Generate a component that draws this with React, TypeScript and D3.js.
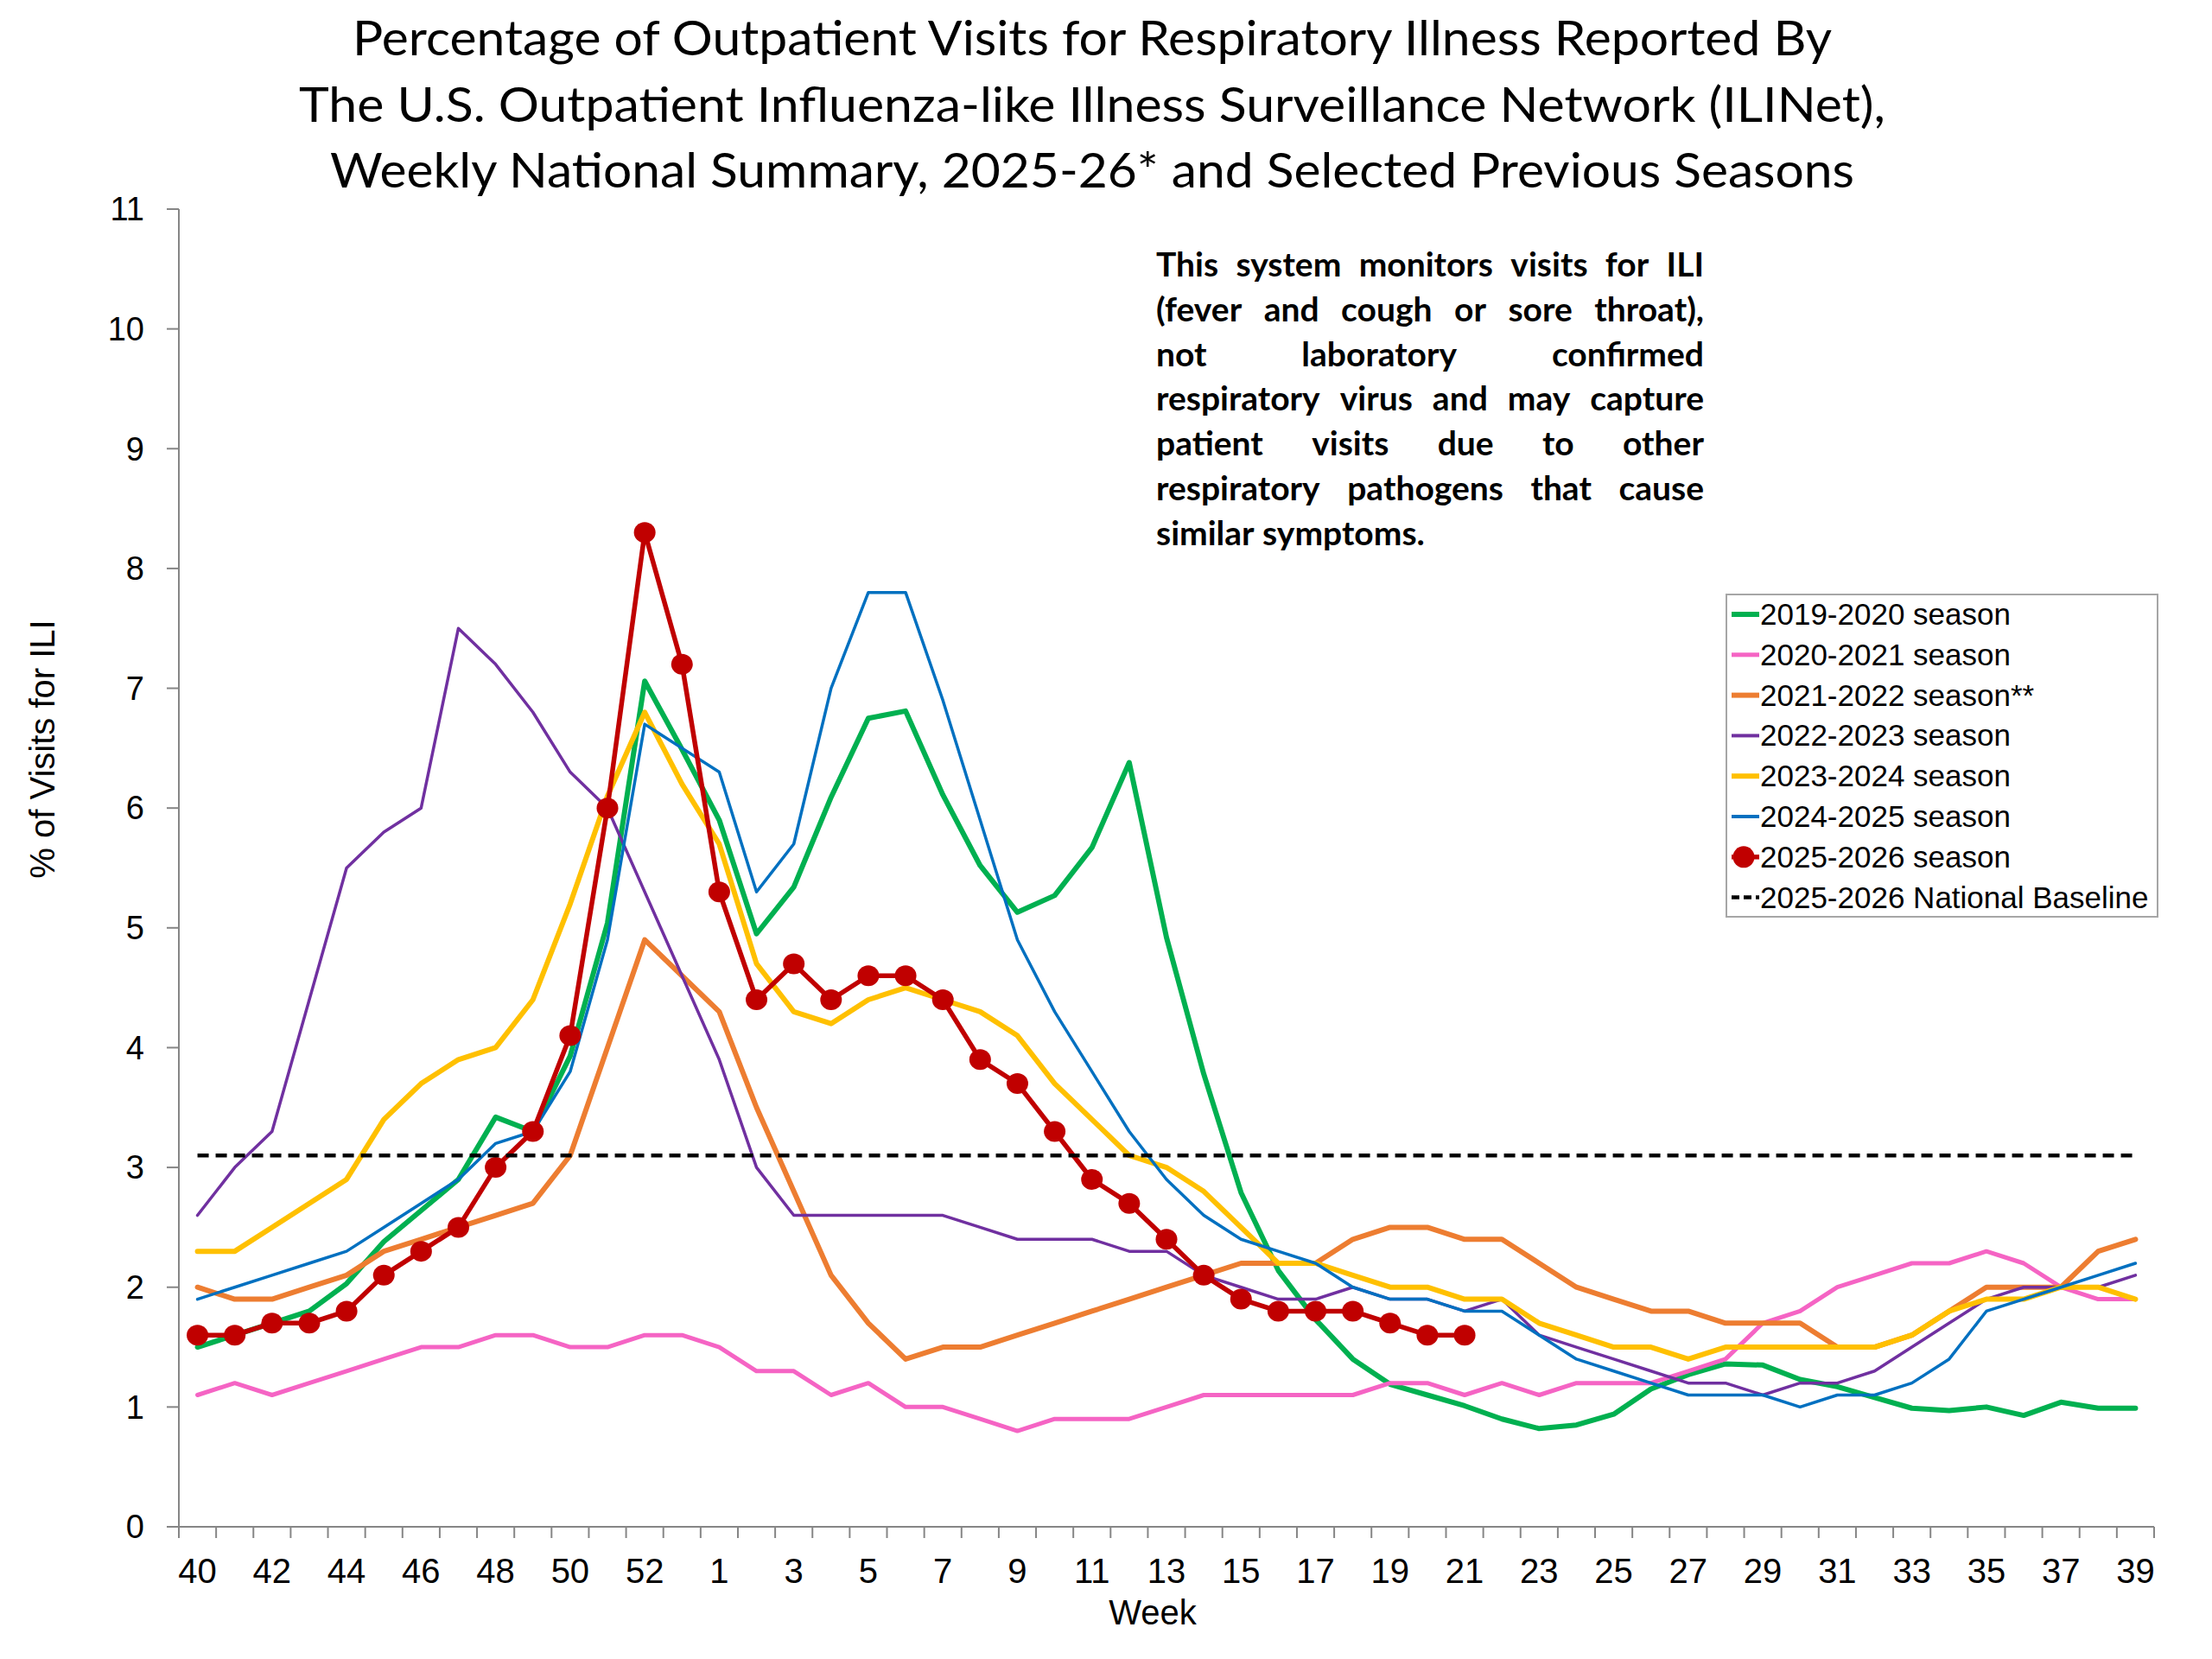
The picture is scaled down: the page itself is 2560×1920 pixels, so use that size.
import { useMemo } from "react";
import * as d3 from "d3";

const WEEKS = [
  40, 41, 42, 43, 44, 45, 46, 47, 48, 49, 50, 51, 52, 53,
  1, 2, 3, 4, 5, 6, 7, 8, 9, 10, 11, 12, 13, 14, 15, 16, 17, 18, 19, 20,
  21, 22, 23, 24, 25, 26, 27, 28, 29, 30, 31, 32, 33, 34, 35, 36, 37, 38, 39,
];

const S2019 = [
  1.5, 1.6, 1.7, 1.8, 2.03, 2.38, 2.64, 2.9, 3.42, 3.3, 3.93, 5.04, 7.06, 6.49,
  5.9, 4.95, 5.34, 6.09, 6.75, 6.81, 6.11, 5.52, 5.13, 5.27, 5.67, 6.38, 4.92, 3.78,
  2.79, 2.14, 1.73, 1.4, 1.19, 1.1, 1.01, 0.9, 0.82, 0.85, 0.94, 1.15, 1.27, 1.36,
  1.35, 1.23, 1.17, 1.08, 0.99, 0.97, 1.0, 0.93, 1.04, 0.99, 0.99,
];
const S2020 = [
  1.1, 1.2, 1.1, 1.2, 1.3, 1.4, 1.5, 1.5, 1.6, 1.6, 1.5, 1.5, 1.6, 1.6,
  1.5, 1.3, 1.3, 1.1, 1.2, 1.0, 1.0, 0.9, 0.8, 0.9, 0.9, 0.9, 1.0, 1.1,
  1.1, 1.1, 1.1, 1.1, 1.2, 1.2, 1.1, 1.2, 1.1, 1.2, 1.2, 1.2, 1.3, 1.4,
  1.7, 1.8, 2.0, 2.1, 2.2, 2.2, 2.3, 2.2, 2.0, 1.9, 1.9,
];
const S2021 = [
  2.0, 1.9, 1.9, 2.0, 2.1, 2.3, 2.4, 2.5, 2.6, 2.7, 3.1, 4.0, 4.9, 4.6,
  4.3, 3.5, 2.8, 2.1, 1.7, 1.4, 1.5, 1.5, 1.6, 1.7, 1.8, 1.9, 2.0, 2.1,
  2.2, 2.2, 2.2, 2.4, 2.5, 2.5, 2.4, 2.4, 2.2, 2.0, 1.9, 1.8, 1.8, 1.7,
  1.7, 1.7, 1.5, 1.5, 1.6, 1.8, 2.0, 2.0, 2.0, 2.3, 2.4,
];
const S2022 = [
  2.6, 3.0, 3.3, 4.4, 5.5, 5.8, 6.0, 7.5, 7.2, 6.8, 6.3, 6.0, 5.3, 4.6,
  3.9, 3.0, 2.6, 2.6, 2.6, 2.6, 2.6, 2.5, 2.4, 2.4, 2.4, 2.3, 2.3, 2.1,
  2.0, 1.9, 1.9, 2.0, 1.9, 1.9, 1.8, 1.9, 1.6, 1.5, 1.4, 1.3, 1.2, 1.2,
  1.1, 1.2, 1.2, 1.3, 1.5, 1.7, 1.9, 2.0, 2.0, 2.0, 2.1,
];
const S2023 = [
  2.3, 2.3, 2.5, 2.7, 2.9, 3.4, 3.7, 3.9, 4.0, 4.4, 5.2, 6.1, 6.8, 6.2,
  5.7, 4.7, 4.3, 4.2, 4.4, 4.5, 4.4, 4.3, 4.1, 3.7, 3.4, 3.1, 3.0, 2.8,
  2.5, 2.2, 2.2, 2.1, 2.0, 2.0, 1.9, 1.9, 1.7, 1.6, 1.5, 1.5, 1.4, 1.5,
  1.5, 1.5, 1.5, 1.5, 1.6, 1.8, 1.9, 1.9, 2.0, 2.0, 1.9,
];
const S2024 = [
  1.9, 2.0, 2.1, 2.2, 2.3, 2.5, 2.7, 2.9, 3.2, 3.3, 3.8, 4.9, 6.7, 6.5,
  6.3, 5.3, 5.7, 7.0, 7.8, 7.8, 6.9, 5.9, 4.9, 4.3, 3.8, 3.3, 2.9, 2.6,
  2.4, 2.3, 2.2, 2.0, 1.9, 1.9, 1.8, 1.8, 1.6, 1.4, 1.3, 1.2, 1.1, 1.1,
  1.1, 1.0, 1.1, 1.1, 1.2, 1.4, 1.8, 1.9, 2.0, 2.1, 2.2,
];
const S2025 = [
  1.6, 1.6, 1.7, 1.7, 1.8, 2.1, 2.3, 2.5, 3.0, 3.3, 4.1, 6.0, 8.3, 7.2,
  5.3, 4.4, 4.7, 4.4, 4.6, 4.6, 4.4, 3.9, 3.7, 3.3, 2.9, 2.7, 2.4, 2.1,
  1.9, 1.8, 1.8, 1.8, 1.7, 1.6, 1.6,
];
const BASELINE = 3.1;

const Y_TICKS = [0, 1, 2, 3, 4, 5, 6, 7, 8, 9, 10, 11];

const TITLE_LINES = [
  "Percentage of Outpatient Visits for Respiratory Illness Reported By",
  "The U.S. Outpatient Influenza-like Illness Surveillance Network (ILINet),",
  "Weekly National Summary, 2025-26* and Selected Previous Seasons",
];
const TITLE_WIDTHS = [1712, 1836, 1764];

const NOTE_LINES = [
  "This system monitors visits for ILI",
  "(fever and cough or sore throat),",
  "not laboratory confirmed",
  "respiratory virus and may capture",
  "patient visits due to other",
  "respiratory pathogens that cause",
  "similar symptoms.",
];

const SERIES = [
  { name: "2019-2020 season", values: S2019, color: "#00B050", width: 6 },
  { name: "2020-2021 season", values: S2020, color: "#F564C4", width: 5 },
  { name: "2021-2022 season**", values: S2021, color: "#ED7D31", width: 6 },
  { name: "2022-2023 season", values: S2022, color: "#7030A0", width: 3.5 },
  { name: "2023-2024 season", values: S2023, color: "#FFC000", width: 6 },
  { name: "2024-2025 season", values: S2024, color: "#0070C0", width: 3.5 },
];
const CURRENT = { name: "2025-2026 season", values: S2025, color: "#C00000", width: 5.5 };
const BASELINE_NAME = "2025-2026 National Baseline";

const WIDTH = 2560;
const HEIGHT = 1920;
const PLOT = { left: 207, right: 2493, top: 242, bottom: 1767 };
const AXIS = "#868686";
const SANS = "'Liberation Sans', Arial, sans-serif";
const CAL = "Lato, 'Open Sans', sans-serif";

// justified note block (Calibri-ish bold in the original)
const NOTE = { left: 1338, right: 1972, top: 320, step: 51.8, size: 39 };

function justify(lines: string[]) {
  const canvas = document.createElement("canvas");
  const ctx = canvas.getContext("2d")!;
  ctx.font = `bold ${NOTE.size}px Lato`;
  const W = NOTE.right - NOTE.left;
  return lines.map((line, li) => {
    const words = line.split(" ");
    const widths = words.map((w) => ctx.measureText(w).width);
    const sum = d3.sum(widths);
    const last = li === lines.length - 1;
    const space = ctx.measureText(" ").width;
    let gap = last ? space : (W - sum) / Math.max(words.length - 1, 1);
    let scale = 1;
    if (!last && gap < 10) {
      gap = 10;
      scale = (W - 10 * (words.length - 1)) / sum;
    }
    let x = NOTE.left;
    return words.map((w, i) => {
      const item = { text: w, x, len: widths[i] * scale };
      x += widths[i] * scale + gap;
      return item;
    });
  });
}

export default function App() {
  const x = d3
    .scaleBand<number>()
    .domain(d3.range(WEEKS.length))
    .range([PLOT.left, PLOT.right])
    .padding(0);
  const cx = (i: number) => (x(i) ?? 0) + x.bandwidth() / 2;
  const y = d3.scaleLinear().domain([0, 11]).range([PLOT.bottom, PLOT.top]);

  const line = d3
    .line<number>()
    .x((_, i) => cx(i))
    .y((d) => y(d));

  const note = useMemo(() => justify(NOTE_LINES), []);

  const legendItems = [...SERIES, CURRENT];
  const LEG = { left: 1998, top: 688, right: 2497, bottom: 1061, row: 46.8, base: 723 };

  return (
    <svg
      width={WIDTH}
      height={HEIGHT}
      style={{ position: "absolute", left: 0, top: 0, background: "#fff" }}
    >
      <rect width={WIDTH} height={HEIGHT} fill="#fff" />

      {/* Title */}
      {TITLE_LINES.map((t, i) => (
        <text
          key={t}
          x={1264}
          y={64 + i * 76.5}
          textAnchor="middle"
          fontFamily={CAL}
          fontSize={57}
          textLength={TITLE_WIDTHS[i]}
          lengthAdjust="spacingAndGlyphs"
          fill="#000"
        >
          {t}
        </text>
      ))}

      {/* Axes */}
      <line x1={PLOT.left} x2={PLOT.left} y1={PLOT.top} y2={PLOT.bottom} stroke={AXIS} strokeWidth={2} />
      <line x1={PLOT.left - 14} x2={PLOT.right} y1={PLOT.bottom} y2={PLOT.bottom} stroke={AXIS} strokeWidth={2} />
      {Y_TICKS.map((t) => (
        <g key={t}>
          <line x1={PLOT.left - 14} x2={PLOT.left} y1={y(t)} y2={y(t)} stroke={AXIS} strokeWidth={2} />
          <text
            x={167}
            y={y(t)}
            dy="0.35em"
            textAnchor="end"
            fontFamily={SANS}
            fontSize={38}
            fill="#000"
          >
            {t}
          </text>
        </g>
      ))}
      {d3.range(WEEKS.length + 1).map((k) => {
        const xx = PLOT.left + k * x.bandwidth();
        return (
          <line key={k} x1={xx} x2={xx} y1={PLOT.bottom} y2={PLOT.bottom + 13} stroke={AXIS} strokeWidth={2} />
        );
      })}
      {WEEKS.map((w, i) =>
        i % 2 === 0 ? (
          <text
            key={i}
            x={cx(i)}
            y={1832}
            textAnchor="middle"
            fontFamily={SANS}
            fontSize={40}
            fill="#000"
          >
            {w}
          </text>
        ) : null
      )}
      <text x={1334} y={1880} textAnchor="middle" fontFamily={SANS} fontSize={40} fill="#000">
        Week
      </text>
      <text
        transform={`translate(63,867) rotate(-90)`}
        textAnchor="middle"
        fontFamily={SANS}
        fontSize={40}
        fill="#000"
      >
        % of Visits for ILI
      </text>

      {/* Note */}
      {note.map((words, li) =>
        words.map((w, wi) => (
          <text
            key={`${li}-${wi}`}
            x={w.x}
            y={NOTE.top + li * NOTE.step}
            fontFamily={CAL}
            fontWeight="bold"
            fontSize={NOTE.size}
            textLength={w.len}
            lengthAdjust="spacingAndGlyphs"
            fill="#000"
          >
            {w.text}
          </text>
        ))
      )}

      {/* Series */}
      {SERIES.map((s) => (
        <path
          key={s.name}
          d={line(s.values) ?? ""}
          fill="none"
          stroke={s.color}
          strokeWidth={s.width}
          strokeLinejoin="round"
          strokeLinecap="round"
        />
      ))}
      <path
        d={line(CURRENT.values) ?? ""}
        fill="none"
        stroke={CURRENT.color}
        strokeWidth={CURRENT.width}
        strokeLinejoin="round"
      />
      {CURRENT.values.map((v, i) => (
        <ellipse key={i} cx={cx(i)} cy={y(v)} rx={12.5} ry={12} fill={CURRENT.color} />
      ))}
      <line
        x1={cx(0)}
        x2={cx(WEEKS.length - 1)}
        y1={y(BASELINE)}
        y2={y(BASELINE)}
        stroke="#000"
        strokeWidth={4.5}
        strokeDasharray="13,8"
      />

      {/* Legend */}
      <rect
        x={LEG.left}
        y={LEG.top}
        width={LEG.right - LEG.left}
        height={LEG.bottom - LEG.top}
        fill="#fff"
        stroke="#A6A6A6"
        strokeWidth={2}
      />
      {legendItems.map((s, i) => {
        const by = LEG.base + i * LEG.row;
        return (
          <g key={s.name}>
            <line x1={2004} x2={2036} y1={by - 12} y2={by - 12} stroke={s.color} strokeWidth={Math.max(s.width, 4)} />
            {s === CURRENT ? <circle cx={2018} cy={by - 12} r={12.5} fill={s.color} /> : null}
            <text x={2037} y={by} fontFamily={SANS} fontSize={35} fill="#000">
              {s.name}
            </text>
          </g>
        );
      })}
      <line
        x1={2004}
        x2={2036}
        y1={LEG.base + 7 * LEG.row - 12}
        y2={LEG.base + 7 * LEG.row - 12}
        stroke="#000"
        strokeWidth={4.5}
        strokeDasharray="9,5"
      />
      <text x={2037} y={LEG.base + 7 * LEG.row} fontFamily={SANS} fontSize={35} fill="#000">
        {BASELINE_NAME}
      </text>
    </svg>
  );
}
